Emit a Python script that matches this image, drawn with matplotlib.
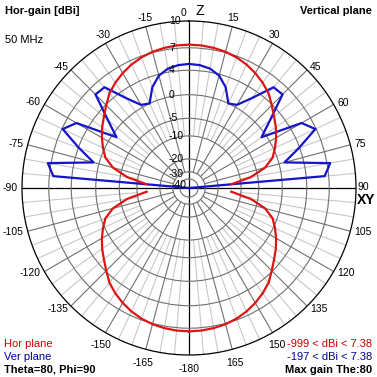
import numpy as np
import matplotlib
matplotlib.use("Agg")
import matplotlib.pyplot as plt

plt.rcParams["font.family"] = ["Liberation Sans", "DejaVu Sans"]
NARROW = ["Liberation Sans Narrow", "Liberation Sans", "DejaVu Sans"]

# Gain, every 5 deg from the zenith (0) down to the horizon (90)
step_deg = list(range(0, 95, 5))
hor_gain = [7.38, 7.35, 7.25, 7.1, 6.85, 6.5, 6.05, 5.5, 4.85, 3.9,
            3.0, 2.2, 1.3, 0.3, -0.8, -2.9, -6.8, -13.5, -999]
ver_gain = [4.9, 4.8, 4.5, 3.8, 2.4, 0.0, 0.5, 2.8, 5.9, 6.0,
            2.2, -0.9, 5.7, 6.9, 3.9, 1.0, 7.38, 6.5, -197]

ring_levels = [10, 7, 4, 0, -5, -10, -20, -30, -40]
angle_labels = list(range(-180, 180, 15))

HOR_COLOR = "#dc1414"
VER_COLOR = "#1414c8"


def arrl(db):
    # ARRL log scale: 0.89 per 2 dB below the 10 dBi outer ring
    return 0.89 ** ((10 - np.asarray(db, dtype=float)) / 2)


def arrl_inv(r):
    r = np.clip(np.asarray(r, dtype=float), 1e-300, None)
    return 10 - 2 * np.log(r) / np.log(0.89)


# full patterns: horizontal plane is symmetric front/back and left/right
right = hor_gain + hor_gain[-2::-1]           # 0 .. 180
hor_full = right[:0:-1] + right               # -180 .. 180
hor_theta = list(range(-180, 185, 5))
ver_full = ver_gain[:0:-1] + ver_gain         # -90 .. 90
ver_theta = list(range(-90, 95, 5))

fig = plt.figure(figsize=(3.77, 3.77), dpi=100)
ax = fig.add_axes([22 / 377, 22 / 377, 334 / 377, 334 / 377], projection="polar")
ax.set_theta_zero_location("N")
ax.set_theta_direction(-1)
ax.set_rscale("function", functions=(arrl, arrl_inv))
ax.set_rlim(-300, 10)

ax.set_xticks([])
ax.set_rgrids(ring_levels[1:], labels=[""] * (len(ring_levels) - 1))
ax.yaxis.grid(True, color="#707070", lw=0.8)
ax.spines["polar"].set_color("black")
ax.spines["polar"].set_linewidth(0.9)

# spokes
for a in range(-180, 180, 5):
    th = np.deg2rad(a)
    if a % 90 == 0:
        ax.plot([th, th], [-300, 10], color="black", lw=0.9, zorder=1)
    elif a % 15 == 0:
        ax.plot([th, th], [-30, 10], color="#707070", lw=0.8, zorder=1)
    else:
        ax.plot([th, th], [-10, 10], color="#c8c8c8", lw=0.8, zorder=0.9)

ax.plot(np.deg2rad(ver_theta), ver_full, color=VER_COLOR, lw=1.6, zorder=3)
ax.plot(np.deg2rad(hor_theta), hor_full, color=HOR_COLOR, lw=1.6, zorder=4)

# ring labels (the two innermost are nudged down so they do not collide)
ring_offsets = {-30: (-20, -2), -40: (-17, -6)}
for lv in ring_levels:
    off = ring_offsets.get(lv, (-20, 0))
    ax.annotate(str(lv), xy=(0, lv), xytext=off, textcoords="offset pixels",
                ha="left", va="center", fontsize=7.5, family=NARROW, zorder=5)

# angle labels
for a in angle_labels:
    th = np.deg2rad(a)
    s, c = np.sin(th), np.cos(th)
    if a == 0:
        ax.annotate("0", xy=(th, 10), xytext=(-3, 3), textcoords="offset pixels",
                    ha="right", va="bottom", fontsize=7.5, family=NARROW)
        ax.annotate("Z", xy=(th, 10), xytext=(6, 3), textcoords="offset pixels",
                    ha="left", va="bottom", fontsize=10)
        continue
    if a == 90:
        ax.annotate("90", xy=(th, 10), xytext=(2, 1), textcoords="offset pixels",
                    ha="left", va="center", fontsize=7.5, family=NARROW)
        ax.annotate("XY", xy=(th, 10), xytext=(1, -5), textcoords="offset pixels",
                    ha="left", va="top", fontsize=10, fontweight="bold")
        continue
    if abs(a) <= 30:
        ha, va, d = "center", "bottom", 4
    elif abs(a) >= 150:
        ha, va, d = "center", "top", 9
    else:
        ha, va, d = ("left" if s > 0 else "right"), "center", 4
    ax.annotate(str(a), xy=(th, 10), xytext=(d * s, d * c), textcoords="offset pixels",
                ha=ha, va=va, fontsize=7.5, family=NARROW)


def px(x, y):
    return x / 377, 1 - y / 377


fig.text(*px(5, 14.5), "Hor-gain [dBi]", fontsize=8, fontweight="bold", va="baseline")
fig.text(*px(372, 14.5), "Vertical plane", fontsize=8, fontweight="bold",
         va="baseline", ha="right")
fig.text(*px(5, 43), "50 MHz", fontsize=8, va="baseline")
fig.text(*px(4, 347), "Hor plane", fontsize=8, va="baseline", color="#cc0000")
fig.text(*px(4, 360), "Ver plane", fontsize=8, va="baseline", color="#000099")
fig.text(*px(4, 373), "Theta=80, Phi=90", fontsize=8, fontweight="bold", va="baseline")
fig.text(*px(372, 347), "-999 < dBi < 7.38", fontsize=8, va="baseline", ha="right",
         color="#cc0000")
fig.text(*px(372, 360), "-197 < dBi < 7.38", fontsize=8, va="baseline", ha="right",
         color="#000099")
fig.text(*px(372, 373), "Max gain The:80", fontsize=8, fontweight="bold",
         va="baseline", ha="right")

fig.savefig("out.png", dpi=100, facecolor="white")
